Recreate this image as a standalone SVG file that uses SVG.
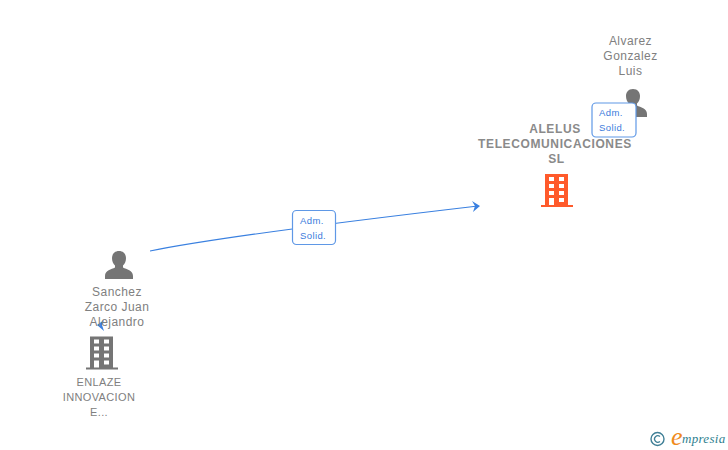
<svg xmlns="http://www.w3.org/2000/svg" width="728" height="450" viewBox="0 0 728 450">
<defs>
<style>
text{font-family:"Liberation Sans",Arial,sans-serif;text-anchor:middle}
.p{font-size:12px;fill:#808080;letter-spacing:.45px}
.c{font-size:11px;fill:#808080;letter-spacing:.35px}
.b{font-size:12px;fill:#8a8a8a;font-weight:bold;letter-spacing:.62px}
.l{font-size:9.5px;fill:#3a7bdc;text-anchor:start;letter-spacing:.4px}
.box{fill:#fff;stroke:#5f98e6;stroke-width:1.2}
.line{fill:none;stroke:#3a80e0;stroke-width:1.2}
.head{fill:#3a80e0}
</style>
<g id="bld"><path d="M4 -2V-33H27V-2H32V0H0V-2ZM8 -30V-26H13V-30ZM18 -30V-26H23V-30ZM8 -23V-19H13V-23ZM18 -23V-19H23V-23ZM8 -16V-12H13V-16ZM18 -16V-12H23V-16ZM8 -9V-2H13V-9ZM18 -9V-5H23V-9Z" fill-rule="evenodd"/></g>
<g id="psn"><path d="M0 -28C4.800 -28 7 -24.500 7 -21C7 -18 6 -15.500 4 -13.500V-11.500C7.500 -9.500 14 -9 14 -3V0H-14V-3C-14 -9 -7.500 -9.500 -4 -11.500V-13.500C-6 -15.500 -7 -18 -7 -21C-7 -24.500 -4.800 -28 0 -28Z"/></g>
</defs>
<rect width="728" height="450" fill="#fff"/>
<g id="connectors">
<path class="line" d="M150 251Q230 235 478 206"/>
<path class="head" d="M472 201L480 206L473 212L475 206Z"/>
<path class="head" d="M104 320L97 325L104 331L102 325Z"/>
</g>
<g id="node-alvarez">
<text class="p" x="630.500" y="45">Alvarez</text>
<text class="p" x="630.500" y="60">Gonzalez</text>
<text class="p" x="630.500" y="75">Luis</text>
<use href="#psn" x="633" y="117" fill="#757575"/>
</g>
<g id="node-alelus">
<text class="b" x="555" y="133">ALELUS</text>
<text class="b" x="555" y="148">TELECOMUNICACIONES</text>
<text class="b" x="556.500" y="163">SL</text>
<use href="#bld" x="541" y="207" fill="#ff5a2b"/>
</g>
<g id="node-sanchez">
<use href="#psn" x="119" y="279" fill="#757575"/>
<text class="p" x="117" y="296">Sanchez</text>
<text class="p" x="117" y="311">Zarco Juan</text>
<text class="p" x="117" y="326">Alejandro</text>
</g>
<g id="node-enlaze">
<use href="#bld" x="86" y="369.500" fill="#757575"/>
<text class="c" x="99" y="386">ENLAZE</text>
<text class="c" x="99" y="401">INNOVACION</text>
<text class="c" x="99" y="416">E...</text>
</g>
<g id="label-1">
<rect class="box" x="292.500" y="210.500" width="43" height="34" rx="4"/>
<text class="l" x="300" y="224">Adm.</text>
<text class="l" x="300" y="239">Solid.</text>
</g>
<g id="label-2">
<rect class="box" x="592" y="103" width="44" height="34" rx="4"/>
<text class="l" x="599" y="116">Adm.</text>
<text class="l" x="599" y="131">Solid.</text>
</g>
<g id="logo">
<circle cx="657.500" cy="439" r="6.500" fill="none" stroke="#3f7f96" stroke-width="1.400"/>
<path d="M660 436.500A3.300 3.300 0 1 0 660 441.500" fill="none" stroke="#3f7f96" stroke-width="1.200"/>
<text x="671" y="445" style="text-anchor:start;font-family:'Liberation Serif',serif;font-style:italic;font-size:26px;fill:#f08a1c">e</text>
<text x="682" y="443" style="text-anchor:start;font-family:'Liberation Serif',serif;font-style:italic;font-size:13px;fill:#2f7f8f;letter-spacing:.3px">mpresia</text>
</g>
</svg>
